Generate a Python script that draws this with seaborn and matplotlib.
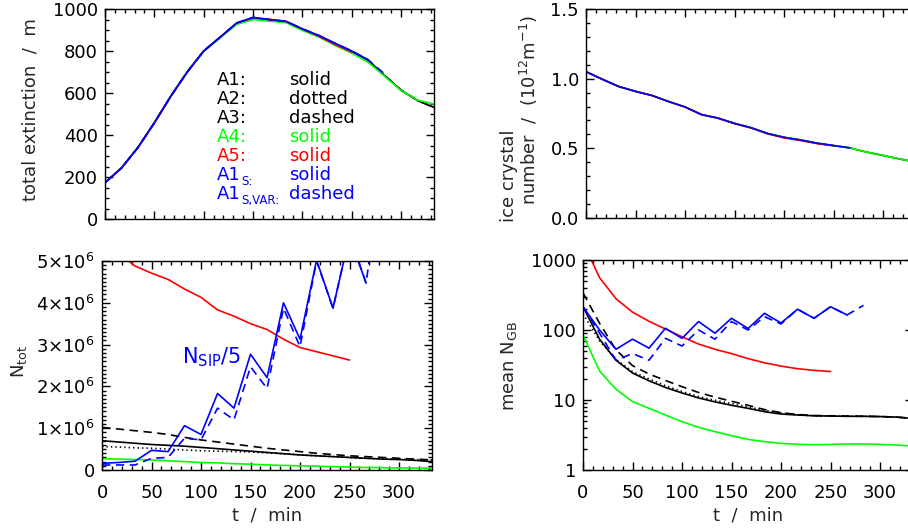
import numpy as np
import pandas as pd
import matplotlib
matplotlib.use("Agg")
import matplotlib.pyplot as plt
from matplotlib.ticker import MultipleLocator, NullFormatter, LogLocator
from matplotlib.transforms import offset_copy
import seaborn as sns

# ---------------- data ----------------
times = [0, 16.7, 33.3, 50, 66.7, 83.3, 100, 116.7, 133.3, 150, 166.7, 183.3,
         200, 216.7, 233.3, 250, 266.7, 283.3, 300, 316.7, 333.3]

# total extinction / m
ext_A1 = [173, 243, 340, 458, 585, 700, 800, 866, 932, 958, 948, 940, 903, 872, 834, 798, 755, 683, 613, 564, 531]
ext_A2 = [173, 243, 340, 458, 585, 700, 800, 866, 932, 958, 948, 940, 903, 872, 834, 798, 755, 683, 613, 564, 531]
ext_A3 = [173, 243, 340, 458, 585, 700, 800, 866, 932, 958, 948, 940, 904, 873, 835, 799, 756, 684, 614, 565, 532]
ext_A4 = [173, 243, 340, 458, 585, 700, 798, 862, 926, 950, 942, 935, 898, 866, 826, 790, 746, 680, 612, 566, 547]
ext_A5 = [173, 243, 340, 458, 585, 700, 800, 866, 933, 958, 950, 942, 905, 870, 830, 795]
ext_A1S = [173, 243, 340, 458, 585, 700, 800, 866, 933, 960, 950, 941, 905, 874, 836, 800, 758]
ext_A1SV = [173, 243, 340, 458, 585, 700, 800, 866, 933, 960, 950, 941, 905, 874, 836, 800, 758, 690]

# ice crystal number / 1e12 m^-1
icn_A1 = [1.05, 0.995, 0.943, 0.909, 0.879, 0.836, 0.797, 0.742, 0.717, 0.679, 0.648, 0.607, 0.579, 0.560, 0.537, 0.520, 0.503, 0.473, 0.449, 0.424, 0.400]
icn_A4 = [1.05, 0.995, 0.943, 0.909, 0.879, 0.836, 0.797, 0.742, 0.717, 0.679, 0.648, 0.607, 0.579, 0.560, 0.537, 0.520, 0.503, 0.473, 0.449, 0.424, 0.400]
icn_A5 = [1.05, 0.995, 0.943, 0.909, 0.879, 0.836, 0.797, 0.742, 0.716, 0.677, 0.646, 0.604, 0.575, 0.556, 0.534, 0.518]
icn_A1S = [1.05, 0.995, 0.943, 0.909, 0.879, 0.836, 0.797, 0.742, 0.717, 0.679, 0.648, 0.607, 0.579, 0.560, 0.537, 0.520, 0.503]

# N_tot (units of 1e6)
nt_A1 = [0.70, 0.67, 0.64, 0.61, 0.59, 0.57, 0.54, 0.51, 0.48, 0.45, 0.42, 0.39, 0.36, 0.34, 0.32, 0.30, 0.28, 0.26, 0.25, 0.23, 0.20]
nt_A2 = [0.56, 0.55, 0.53, 0.52, 0.50, 0.48, 0.46, 0.45, 0.44, 0.43, 0.41, 0.39, 0.36, 0.34, 0.32, 0.30, 0.28, 0.27, 0.26, 0.25, 0.24]
nt_A3 = [1.02, 0.98, 0.94, 0.90, 0.85, 0.78, 0.72, 0.67, 0.62, 0.57, 0.52, 0.48, 0.44, 0.40, 0.37, 0.34, 0.32, 0.30, 0.28, 0.26, 0.24]
nt_A4 = [0.27, 0.26, 0.25, 0.24, 0.22, 0.20, 0.18, 0.17, 0.15, 0.14, 0.12, 0.11, 0.10, 0.09, 0.08, 0.07, 0.06, 0.055, 0.05, 0.045, 0.04]
nt_A5 = [5.6, 5.2, 4.88, 4.71, 4.56, 4.33, 4.13, 3.83, 3.68, 3.50, 3.36, 3.13, 2.93, 2.83, 2.73, 2.63]
nsip_A1S = [0.16, 0.18, 0.21, 0.47, 0.44, 1.06, 0.85, 1.83, 1.48, 2.77, 2.21, 4.00, 3.13, 5.02, 3.87, 5.60, 4.47]
nsip_A1SV = [0.12, 0.12, 0.12, 0.28, 0.30, 0.76, 0.72, 1.48, 1.20, 2.47, 1.95, 3.87, 2.95, 5.00, 3.87, 5.60, 4.47, 7.30]

# mean N_GB
ngb_A1 = [215, 74, 37, 24.3, 18.8, 15.1, 12.6, 10.7, 9.4, 8.4, 7.6, 6.8, 6.3, 6.1, 5.95, 5.9, 5.85, 5.85, 5.8, 5.7, 5.45]
ngb_A2 = [170, 70, 38, 25.5, 20, 16, 13.2, 11.2, 9.9, 8.9, 8.0, 7.1, 6.5, 6.15, 5.95, 5.9, 5.85, 5.85, 5.8, 5.7, 5.45]
ngb_A3 = [340, 125, 52, 31, 23.5, 19, 15.5, 12.8, 11, 9.6, 8.4, 7.3, 6.6, 6.2, 6.0, 5.95, 5.9, 5.85, 5.8, 5.7, 5.45]
ngb_A4 = [85, 26, 14.2, 9.5, 7.6, 6.1, 4.9, 4.07, 3.53, 3.09, 2.74, 2.54, 2.4, 2.33, 2.3, 2.32, 2.35, 2.35, 2.32, 2.27, 2.2]
ngb_A5 = [1800, 560, 280, 180, 133, 103, 80, 63, 53, 46, 39, 34, 30.5, 28, 26.5, 25.5]
ngb_A1S = [215, 100, 53, 74, 55, 106, 76, 132, 90, 147, 105, 173, 126, 198, 147, 215, 164]
ngb_A1SV = [215, 90, 37, 46, 37, 76, 59, 100, 74, 132, 100, 155, 122, 198, 147, 215, 164, 225]

legend_names = ["A1", "A2", "A3", "A4", "A5", "A1", "A1"]
legend_subs = ["", "", "", "", "", "S", "S,VAR"]
legend_styles = ["solid", "dotted", "dashed", "solid", "solid", "solid", "dashed"]
legend_colors = ["black", "black", "black", "#00ff00", "#ff0000", "#0000ff", "#0000ff"]

# ---------------- style ----------------
sns.set_style("ticks")
plt.rcParams["font.family"] = ["DejaVu Sans"]
plt.rcParams["mathtext.fontset"] = "dejavusans"
plt.rcParams["lines.scale_dashes"] = False
plt.rcParams["axes.linewidth"] = 1.0
FS = 13

BLACK, GREEN, RED, BLUE = "black", "#00ff00", "#ff0000", "#0000ff"
SOLID = "-"
DOT = (0, (1.0, 2.2))
DASH = (0, (6, 4))
LW = 1.2

W, H = 908, 528
fig = plt.figure(figsize=(W / 100, H / 100), dpi=100)


def add_ax(x0, x1, ytop, ybot):
    return fig.add_axes([x0 / W, (H - ybot) / H, (x1 - x0) / W, (ybot - ytop) / H])


ax_ext = add_ax(105, 434, 9, 219)
ax_icn = add_ax(586, 916, 9, 218)
ax_nt = add_ax(102, 432, 261, 470)
ax_ngb = add_ax(583, 913, 260, 470)


def draw(ax, y, color, ls, scale=1.0):
    df = pd.DataFrame({"t": times[:len(y)], "v": np.array(y, dtype=float) * scale})
    sns.lineplot(data=df, x="t", y="v", ax=ax, color=color, linestyle=ls, lw=LW,
                 estimator=None, sort=False, legend=False)


def style(ax):
    ax.tick_params(which="both", direction="in", top=True, right=True,
                   labelsize=FS, width=1.0, colors="black")
    ax.tick_params(which="major", length=5.5)
    ax.tick_params(which="minor", length=2.8)
    ax.tick_params(axis="y", pad=5)
    ax.tick_params(axis="x", pad=10)
    ax.set_xlim(0, 333.3)
    ax.xaxis.set_major_locator(MultipleLocator(50))
    ax.xaxis.set_minor_locator(MultipleLocator(10))
    for s in ax.spines.values():
        s.set_visible(True)
        s.set_color("black")


# ---- top-left: total extinction
for vals, c, ls in [(ext_A1, BLACK, SOLID), (ext_A2, BLACK, DOT), (ext_A3, BLACK, DASH),
                    (ext_A4, GREEN, SOLID), (ext_A5, RED, SOLID),
                    (ext_A1S, BLUE, SOLID), (ext_A1SV, BLUE, DASH)]:
    draw(ax_ext, vals, c, ls)
style(ax_ext)
ax_ext.set_ylim(0, 1000)
ax_ext.yaxis.set_major_locator(MultipleLocator(200))
ax_ext.yaxis.set_minor_locator(MultipleLocator(50))
ax_ext.set_xticklabels([])
ax_ext.set_xlabel("")
ax_ext.set_ylabel("total extinction  /  m", fontsize=FS, va="center", ha="center")
ax_ext.yaxis.set_label_coords(-0.225, 0.52)

for i, (nm, sb, st, c) in enumerate(zip(legend_names, legend_subs, legend_styles, legend_colors)):
    yb = (219 - (85 + 19 * i)) / 210
    if sb:
        ax_ext.text(0.340, yb, nm, color=c, fontsize=FS, transform=ax_ext.transAxes, va="baseline")
        tr = offset_copy(ax_ext.transAxes, fig=fig, x=17.5, y=-3.5, units="points")
        ax_ext.text(0.340, yb, sb + ":", color=c, fontsize=8.5, transform=tr, va="baseline")
    else:
        ax_ext.text(0.340, yb, nm + ":", color=c, fontsize=FS, transform=ax_ext.transAxes, va="baseline")
    ax_ext.text(0.559, yb, st, color=c, fontsize=FS, transform=ax_ext.transAxes, va="baseline")

# ---- top-right: ice crystal number
for vals, c, ls in [(icn_A1, BLACK, SOLID), (icn_A4, GREEN, SOLID), (icn_A5, RED, SOLID),
                    (icn_A1S, BLUE, SOLID)]:
    draw(ax_icn, vals, c, ls)
style(ax_icn)
ax_icn.set_ylim(0, 1.5)
ax_icn.yaxis.set_minor_locator(MultipleLocator(0.1))
ax_icn.set_yticks([0, 0.5, 1.0, 1.5], labels=["0.0", "0.5", "1.0", "1.5"])
ax_icn.set_xticklabels([])
ax_icn.set_xlabel("")
ax_icn.set_ylabel(r"number  /  (10$^{12}$m$^{-1}$)", fontsize=FS, va="center", ha="center")
ax_icn.yaxis.set_label_coords((529 - 586) / 330, (218 - 110) / 209)
ax_icn.text((509 - 586) / 330, (218 - 176) / 209, "ice crystal", rotation=90,
            fontsize=FS, ha="center", va="center", transform=ax_icn.transAxes)

# ---- bottom-left: N_tot
for vals, c, ls in [(nt_A1, BLACK, SOLID), (nt_A2, BLACK, DOT), (nt_A3, BLACK, DASH),
                    (nt_A4, GREEN, SOLID), (nt_A5, RED, SOLID),
                    (nsip_A1S, BLUE, SOLID), (nsip_A1SV, BLUE, DASH)]:
    draw(ax_nt, vals, c, ls, scale=1e6)
style(ax_nt)
ax_nt.set_ylim(0, 5e6)
ax_nt.yaxis.set_minor_locator(MultipleLocator(1e5))
ax_nt.set_yticks([0, 1e6, 2e6, 3e6, 4e6, 5e6],
                 labels=["0", r"1$\times$10$^6$", r"2$\times$10$^6$", r"3$\times$10$^6$",
                         r"4$\times$10$^6$", r"5$\times$10$^6$"])
ax_nt.set_xlabel("t  /  min", fontsize=FS, va="center")
ax_nt.xaxis.set_label_coords(0.5, (470 - 515) / 209)
ax_nt.set_ylabel(r"N$_{\rm tot}$", fontsize=FS, va="center", ha="center")
ax_nt.yaxis.set_label_coords((19 - 102) / 330, (470 - 362) / 209)
ax_nt.text(81, 2.7e6, r"N$_{\rm SIP}$/5", color=BLUE, fontsize=15, va="center", ha="left")

# ---- bottom-right: mean N_GB
for vals, c, ls in [(ngb_A1, BLACK, SOLID), (ngb_A2, BLACK, DOT), (ngb_A3, BLACK, DASH),
                    (ngb_A4, GREEN, SOLID), (ngb_A5, RED, SOLID),
                    (ngb_A1S, BLUE, SOLID), (ngb_A1SV, BLUE, DASH)]:
    draw(ax_ngb, vals, c, ls)
ax_ngb.set_yscale("log")
style(ax_ngb)
ax_ngb.set_ylim(1, 1000)
ax_ngb.set_yticks([1, 10, 100, 1000], labels=["1", "10", "100", "1000"])
ax_ngb.yaxis.set_minor_locator(LogLocator(base=10, subs=np.arange(2, 10)))
ax_ngb.yaxis.set_minor_formatter(NullFormatter())
ax_ngb.set_xlabel("t  /  min", fontsize=FS, va="center")
ax_ngb.xaxis.set_label_coords(0.5, (470 - 515) / 210)
ax_ngb.set_ylabel(r"mean N$_{\rm GB}$", fontsize=FS, va="center", ha="center")
ax_ngb.yaxis.set_label_coords((509 - 583) / 330, (470 - 366) / 210)

fig.savefig("out.png", dpi=100)
